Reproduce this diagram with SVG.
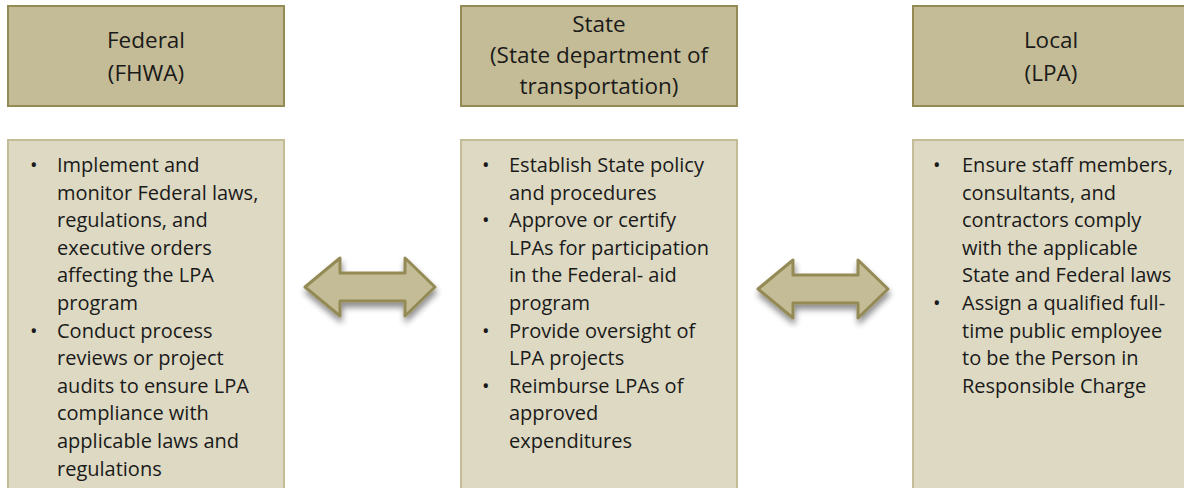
<svg xmlns="http://www.w3.org/2000/svg" width="1184" height="488" viewBox="0 0 1184 488">
  <style>
    .head { fill: #c4bc96; stroke: #948a54; stroke-width: 2; }
    .body { fill: #ddd9c3; stroke: #c4bc96; stroke-width: 2; }
    .arrow { fill: #c4bc96; stroke: #948a54; stroke-width: 3; stroke-linejoin: round; }
    text { font-family: "Open Sans", "Noto Sans", sans-serif; font-size: 20px; fill: #1a1a1a; }
    .title { text-anchor: middle; font-size: 22.5px; }
  </style>
  <defs>
    <filter id="shadow" x="-20%" y="-30%" width="140%" height="170%">
      <feGaussianBlur in="SourceAlpha" stdDeviation="3"/>
      <feOffset dx="1" dy="5" result="b"/>
      <feComponentTransfer><feFuncA type="linear" slope="0.45"/></feComponentTransfer>
      <feMerge><feMergeNode/><feMergeNode in="SourceGraphic"/></feMerge>
    </filter>
    <path id="dblArrow" d="M0,0 L35,-29 L35,-14 L100,-14 L100,-29 L130,0 L100,29 L100,14 L35,14 L35,29 Z"/>
  </defs>
  <rect width="1184" height="488" fill="#ffffff"/>

  <!-- Federal column -->
  <g id="federal">
    <rect class="head" x="8" y="6" width="276" height="100"/>
    <text class="title" x="146" y="48">Federal</text>
    <text class="title" x="146" y="81">(FHWA)</text>
    <rect class="body" x="8" y="140" width="276" height="360"/>
    <text x="30" y="172">•</text>
    <text x="57" y="172">Implement and</text>
    <text x="57" y="199.6">monitor Federal laws,</text>
    <text x="57" y="227.2">regulations, and</text>
    <text x="57" y="254.8">executive orders</text>
    <text x="57" y="282.4">affecting the LPA</text>
    <text x="57" y="310">program</text>
    <text x="30" y="337.6">•</text>
    <text x="57" y="337.6">Conduct process</text>
    <text x="57" y="365.2">reviews or project</text>
    <text x="57" y="392.8">audits to ensure LPA</text>
    <text x="57" y="420.4">compliance with</text>
    <text x="57" y="448">applicable laws and</text>
    <text x="57" y="475.6">regulations</text>
  </g>

  <!-- State column -->
  <g id="state">
    <rect class="head" x="461" y="6" width="276" height="100"/>
    <text class="title" x="599" y="32">State</text>
    <text class="title" x="599" y="63">(State department of</text>
    <text class="title" x="599" y="94">transportation)</text>
    <rect class="body" x="461" y="140" width="276" height="360"/>
    <text x="482" y="172">•</text>
    <text x="509" y="172">Establish State policy</text>
    <text x="509" y="199.6">and procedures</text>
    <text x="482" y="227.2">•</text>
    <text x="509" y="227.2">Approve or certify</text>
    <text x="509" y="254.8">LPAs for participation</text>
    <text x="509" y="282.4">in the Federal- aid</text>
    <text x="509" y="310">program</text>
    <text x="482" y="337.6">•</text>
    <text x="509" y="337.6">Provide oversight of</text>
    <text x="509" y="365.2">LPA projects</text>
    <text x="482" y="392.8">•</text>
    <text x="509" y="392.8">Reimburse LPAs of</text>
    <text x="509" y="420.4">approved</text>
    <text x="509" y="448">expenditures</text>
  </g>

  <!-- Local column -->
  <g id="local">
    <rect class="head" x="913" y="6" width="276" height="100"/>
    <text class="title" x="1051" y="48">Local</text>
    <text class="title" x="1051" y="81">(LPA)</text>
    <rect class="body" x="913" y="140" width="276" height="360"/>
    <text x="933" y="172">•</text>
    <text x="962" y="172">Ensure staff members,</text>
    <text x="962" y="199.6">consultants, and</text>
    <text x="962" y="227.2">contractors comply</text>
    <text x="962" y="254.8">with the applicable</text>
    <text x="962" y="282.4">State and Federal laws</text>
    <text x="933" y="310">•</text>
    <text x="962" y="310">Assign a qualified full-</text>
    <text x="962" y="337.6">time public employee</text>
    <text x="962" y="365.2">to be the Person in</text>
    <text x="962" y="392.8">Responsible Charge</text>
  </g>

  <!-- Two-way connectors between the columns -->
  <g id="connectors" filter="url(#shadow)">
    <use href="#dblArrow" class="arrow" transform="translate(305,287)"/>
    <use href="#dblArrow" class="arrow" transform="translate(758,289)"/>
  </g>
</svg>
